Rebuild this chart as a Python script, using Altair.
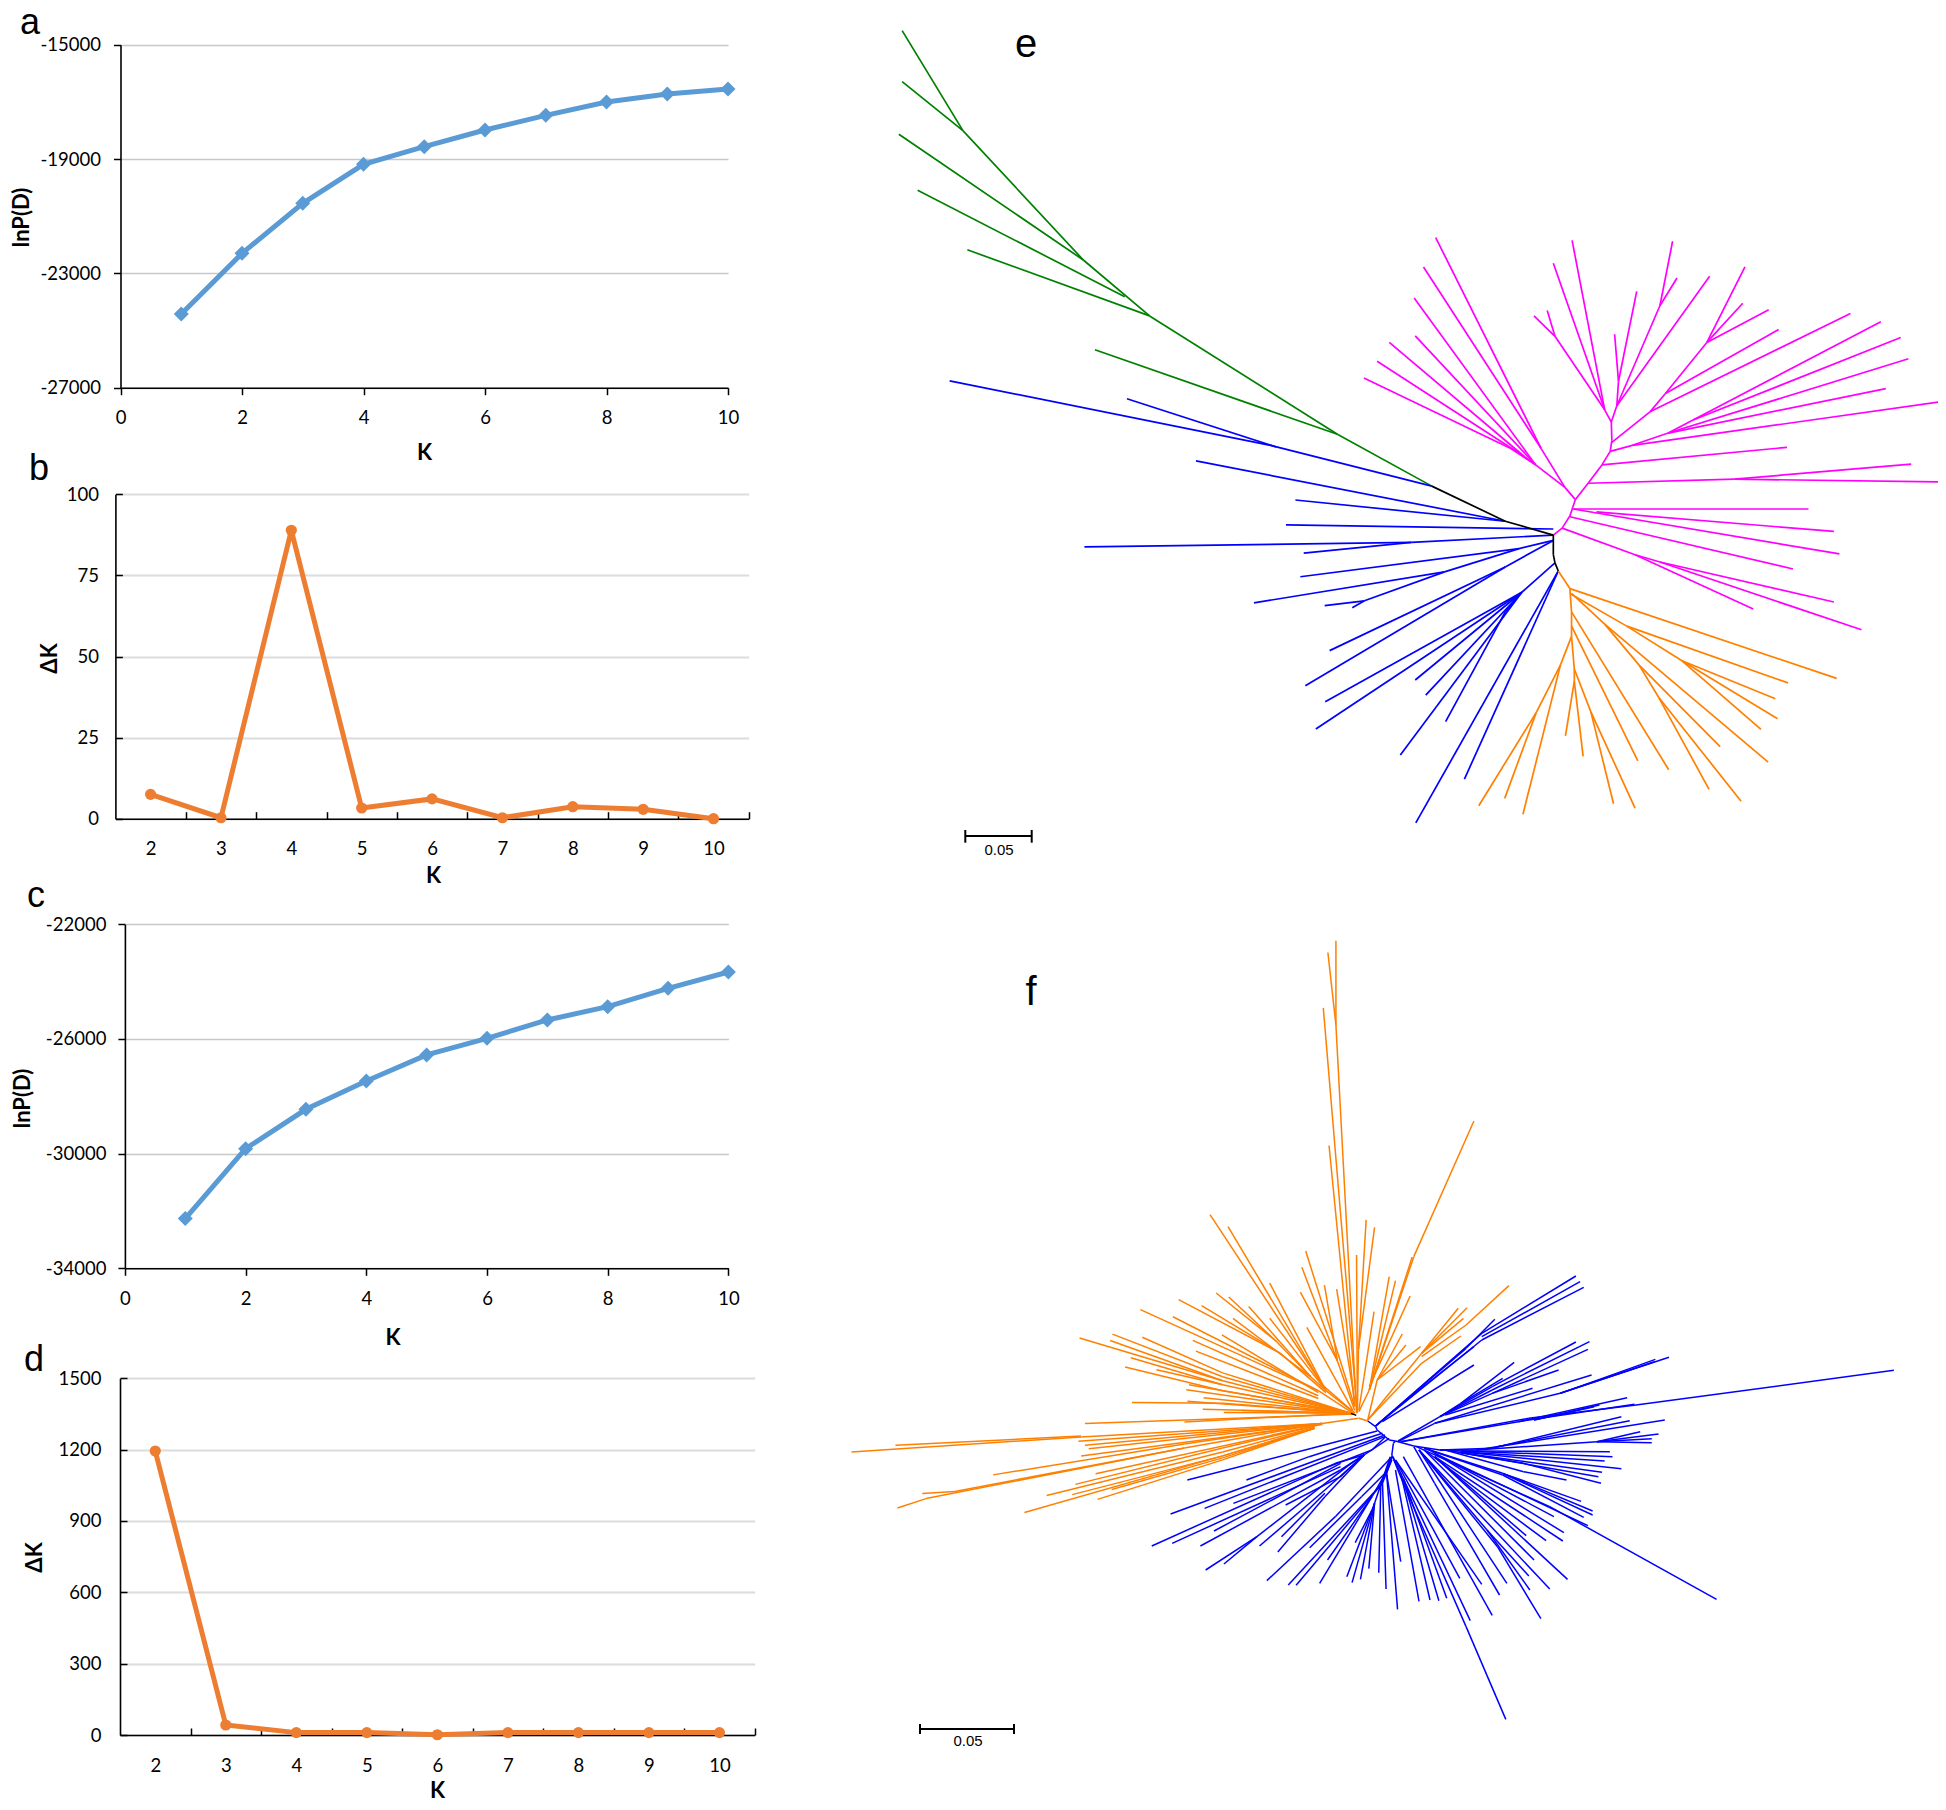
import altair as alt
import pandas as pd

W, H = 1930, 1794
TICK_FONT = "Lato"
k_all = [1, 2, 3, 4, 5, 6, 7, 8, 9, 10]
k_delta = [2, 3, 4, 5, 6, 7, 8, 9, 10]
edges = [2.5, 3.5, 4.5, 5.5, 6.5, 7.5, 8.5, 9.5, 10.5]

lnp_a = [-24423, -22300, -20550, -19186, -18568, -17985, -17472, -17006, -16726, -16551]
dk_b = [7.5, 0.3, 88.9, 3.3, 6.1, 0.3, 3.7, 2.9, 0.0]
lnp_c = [-32267, -29826, -28453, -27465, -26558, -25977, -25337, -24872, -24233, -23663]
dk_d = [1194, 42, 10, 10, 1, 10, 10, 10, 10]

# --- tree e, branch polylines in tree units ---
e_green = [
    [(-322, -464), (-212, -219), (6, 98), (126, 235), (466, 525), (637, 652)],
    [(-322, -339), (-212, -219)],
    [(-328, -210), (6, 98)],
    [(-294, -73), (81, 188)],
    [(-204, 73), (126, 235)],
    [(27, 318), (466, 525)],
]
e_black = [
    [(637, 652), (770, 738), (857, 772), (857, 820), (860, 840), (866, 860)],
]
e_blue = [
    [(-236, 394), (345, 552), (637, 652)],
    [(85, 438), (355, 556)],
    [(210, 590), (770, 738)],
    [(390, 686), (770, 738)],
    [(373, 747), (857, 757)],
    [(8, 801), (600, 790), (857, 772)],
    [(405, 816), (600, 790)],
    [(399, 874), (795, 805), (857, 785)],
    [(315, 938), (660, 862), (795, 805)],
    [(443, 945), (515, 933), (660, 862)],
    [(493, 950), (515, 933)],
    [(452, 1055), (770, 850), (857, 785)],
    [(408, 1141), (770, 850)],
    [(444, 1180), (800, 912), (860, 840)],
    [(427, 1247), (800, 912)],
    [(607, 1127), (800, 912)],
    [(626, 1164), (800, 912)],
    [(662, 1229), (770, 960), (800, 912)],
    [(580, 1311), (800, 912)],
    [(696, 1370), (866, 860)],
    [(608, 1477), (866, 860)],
]
e_orange = [
    [(866, 860), (887, 903), (890, 960), (890, 1020), (895, 1100), (895, 1130)],
    [(887, 903), (1370, 1123)],
    [(887, 915), (990, 995), (1282, 1134)],
    [(990, 995), (1090, 1080), (1259, 1173)],
    [(1090, 1080), (1263, 1222)],
    [(1090, 1080), (1233, 1248)],
    [(890, 915), (950, 990), (1246, 1328)],
    [(950, 990), (1012, 1090), (1159, 1290)],
    [(1012, 1090), (1048, 1170), (1139, 1395)],
    [(1048, 1170), (1197, 1424)],
    [(890, 960), (1066, 1347)],
    [(890, 995), (1010, 1325)],
    [(895, 1100), (925, 1205), (1005, 1441)],
    [(925, 1205), (966, 1430)],
    [(895, 1130), (911, 1314)],
    [(895, 1130), (879, 1264)],
    [(890, 1020), (870, 1090), (826, 1207), (722, 1435)],
    [(826, 1207), (769, 1417)],
    [(870, 1090), (802, 1456)],
]
e_magenta = [
    [(857, 772), (873, 755), (887, 725), (897, 685), (920, 645), (945, 600),
     (960, 567), (963, 540), (962, 495), (950, 465)],
    [(873, 755), (1005, 820), (1219, 953)],
    [(1005, 820), (1050, 838), (1365, 936)],
    [(1050, 838), (1415, 1004)],
    [(887, 727), (1291, 855)],
    [(893, 708), (1375, 818)],
    [(935, 715), (1365, 763)],
    [(893, 708), (1319, 708)],
    [(897, 685), (878, 655), (835, 560), (644, 43)],
    [(835, 560), (622, 115)],
    [(878, 655), (825, 600), (605, 191)],
    [(825, 600), (607, 284)],
    [(825, 600), (805, 580), (560, 300)],
    [(805, 580), (538, 346)],
    [(825, 600), (780, 560), (514, 387)],
    [(920, 645), (1185, 635), (1505, 598)],
    [(1185, 635), (1568, 642)],
    [(945, 600), (1280, 557)],
    [(960, 567), (1000, 552), (1555, 446)],
    [(1000, 552), (1065, 522), (1459, 413)],
    [(1065, 522), (1500, 340)],
    [(1065, 522), (1110, 490), (1486, 288)],
    [(1110, 490), (1450, 249)],
    [(963, 545), (1032, 470), (1395, 229)],
    [(1032, 470), (1060, 425), (1265, 268)],
    [(1060, 425), (1135, 300), (1247, 220)],
    [(1135, 300), (1200, 204)],
    [(1135, 300), (1204, 115)],
    [(962, 495), (972, 455), (1050, 210), (1073, 52)],
    [(1050, 210), (1081, 142)],
    [(972, 455), (1140, 138)],
    [(972, 455), (975, 395), (968, 280)],
    [(975, 395), (1008, 175)],
    [(950, 465), (891, 50)],
    [(950, 465), (860, 285), (822, 235)],
    [(860, 285), (846, 222)],
    [(950, 465), (857, 106)],
]

# --- tree f, left orange side in its own tree units ---
f_orange_left = [
    [(1296, 27), (1296, 240), (1350, 1222)],
    [(1275, 57), (1296, 240)],
    [(1263, 197), (1350, 1200)],
    [(1278, 545), (1345, 1205)],
    [(1350, 822), (1352, 1220)],
    [(1375, 733), (1355, 1060), (1352, 1220)],
    [(1397, 752), (1355, 1060)],
    [(1217, 812), (1345, 1205)],
    [(1207, 853), (1300, 1090), (1345, 1215)],
    [(1203, 916), (1300, 1090)],
    [(1266, 898), (1300, 1090)],
    [(1298, 908), (1345, 1190)],
    [(1220, 1005), (1340, 1215)],
    [(967, 720), (1260, 1150), (1345, 1222)],
    [(1014, 750), (1260, 1150)],
    [(1123, 893), (1270, 1165)],
    [(1123, 982), (1270, 1165)],
    [(1068, 952), (1230, 1130)],
    [(1016, 928), (1140, 1040), (1230, 1130), (1270, 1165), (1345, 1222)],
    [(983, 918), (1140, 1040)],
    [(1027, 982), (1230, 1130)],
    [(945, 950), (1150, 1070), (1270, 1170)],
    [(885, 935), (1150, 1070)],
    [(870, 978), (1250, 1165), (1340, 1222)],
    [(785, 960), (1250, 1165)],
    [(998, 1024), (1250, 1170)],
    [(922, 1038), (1250, 1178)],
    [(930, 1065), (1250, 1185)],
    [(626, 1032), (1000, 1140), (1335, 1222)],
    [(712, 1022), (1000, 1130), (1335, 1222)],
    [(706, 1038), (1000, 1140)],
    [(790, 1030), (1000, 1120), (1335, 1222)],
    [(760, 1082), (1000, 1150), (1335, 1222)],
    [(827, 1112), (1000, 1150)],
    [(745, 1105), (1000, 1165), (1335, 1222)],
    [(905, 1163), (1335, 1222)],
    [(912, 1150), (1335, 1222)],
    [(950, 1183), (1335, 1222)],
    [(908, 1192), (1335, 1222)],
    [(763, 1195), (1000, 1197), (1335, 1222)],
    [(948, 1212), (1335, 1222)],
    [(1003, 1220), (1335, 1222)],
    [(1050, 1215), (1335, 1222)],
    [(900, 1244), (1335, 1222)],
    [(640, 1248), (1345, 1224)],
    [(1355, 1235), (1260, 1248), (630, 1282), (30, 1320)],
    [(145, 1303), (630, 1280)],
    [(623, 1293), (1260, 1248)],
    [(640, 1303), (1260, 1248)],
    [(650, 1312), (1260, 1248)],
    [(630, 1330), (1260, 1250)],
    [(400, 1378), (900, 1300), (1260, 1248)],
    [(150, 1462), (225, 1438), (900, 1310), (1260, 1248)],
    [(215, 1425), (300, 1420), (900, 1310)],
    [(668, 1375), (1260, 1250)],
    [(615, 1402), (1000, 1310), (1240, 1255)],
    [(540, 1430), (1000, 1320), (1240, 1258)],
    [(607, 1428), (1000, 1330), (1240, 1260)],
    [(710, 1415), (1000, 1335), (1240, 1260)],
    [(673, 1440), (1000, 1340), (1240, 1260)],
    [(482, 1473), (1000, 1330), (1240, 1260)],
]
# --- tree f, right side in its own tree units ---
f_orange_right = [
    [(715, -327), (600, 80), (515, 480), (495, 545)],
    [(597, 81), (515, 480)],
    [(553, 140), (515, 480)],
    [(565, 152), (515, 480)],
    [(593, 198), (515, 470)],
    [(524, 245), (505, 440), (495, 540)],
    [(578, 312), (530, 450), (512, 570)],
    [(585, 345), (530, 450)],
    [(613, 350), (530, 450)],
    [(685, 235), (615, 370), (512, 570)],
    [(702, 233), (615, 370)],
    [(695, 265), (615, 370)],
    [(690, 318), (615, 400), (512, 570)],
    [(782, 167), (700, 285), (615, 380)],
    [(495, 565), (512, 573)],
]
f_black = [[(480, 550), (490, 556)]]
f_blue = [
    [(512, 573), (527, 590), (530, 600), (553, 630), (565, 633), (561, 640), (558, 675)],
    [(565, 633), (600, 648), (650, 660)],
    [(755, 268), (700, 355), (527, 588)],
    [(910, 138), (730, 310), (527, 588)],
    [(918, 155), (730, 320)],
    [(925, 172), (730, 330), (527, 588)],
    [(715, 350), (610, 480), (527, 588)],
    [(715, 405), (540, 575)],
    [(792, 397), (690, 520), (650, 560), (570, 633)],
    [(770, 445), (690, 520)],
    [(910, 336), (750, 470), (650, 560)],
    [(936, 335), (750, 480), (650, 560)],
    [(933, 358), (750, 490), (650, 560)],
    [(877, 420), (750, 490)],
    [(827, 475), (660, 555)],
    [(940, 435), (640, 580)],
    [(1062, 388), (880, 490), (640, 580), (570, 635)],
    [(1088, 382), (880, 490)],
    [(1060, 395), (880, 490)],
    [(1008, 503), (800, 575), (575, 635)],
    [(1022, 523), (800, 575)],
    [(955, 525), (830, 570)],
    [(945, 530), (830, 570)],
    [(1518, 421), (1025, 525), (820, 565), (575, 635)],
    [(997, 560), (750, 655), (650, 660)],
    [(1013, 572), (760, 650)],
    [(1080, 570), (720, 660), (650, 660)],
    [(1033, 605), (950, 635), (720, 660)],
    [(1068, 612), (950, 635)],
    [(1055, 626), (950, 635)],
    [(1055, 638), (950, 635)],
    [(975, 665), (690, 663), (650, 660)],
    [(980, 680), (690, 663)],
    [(965, 693), (690, 665)],
    [(997, 716), (690, 665)],
    [(960, 727), (690, 668)],
    [(953, 740), (690, 668)],
    [(958, 760), (810, 700), (660, 660)],
    [(892, 750), (810, 725), (660, 660)],
    [(920, 814), (770, 730), (620, 655)],
    [(942, 843), (770, 730)],
    [(942, 855), (770, 730)],
    [(925, 862), (770, 735), (620, 655)],
    [(933, 887), (640, 670)],
    [(868, 860), (640, 670)],
    [(887, 908), (625, 655)],
    [(885, 933), (640, 680)],
    [(853, 932), (620, 660)],
    [(815, 917), (640, 680)],
    [(830, 990), (620, 660)],
    [(894, 1048), (640, 680)],
    [(1179, 1108), (860, 830), (605, 650)],
    [(860, 1077), (700, 810), (610, 660)],
    [(822, 1080), (740, 900), (610, 660)],
    [(820, 1038), (740, 900)],
    [(778, 1060), (610, 660)],
    [(843, 1166), (760, 950), (610, 660)],
    [(764, 1095), (640, 760), (600, 650)],
    [(750, 1156), (580, 680)],
    [(776, 1468), (700, 1190), (580, 760), (558, 675)],
    [(708, 1172), (560, 680)],
    [(730, 1063), (565, 690)],
    [(688, 1045), (565, 690)],
    [(663, 1105), (580, 745)],
    [(648, 1112), (580, 750)],
    [(631, 1110), (575, 730)],
    [(610, 1114), (565, 720)],
    [(569, 1138), (548, 730), (558, 680)],
    [(575, 995), (548, 730)],
    [(547, 1077), (540, 750), (558, 680)],
    [(533, 1028), (537, 760), (558, 680)],
    [(498, 1048), (525, 820)],
    [(514, 1016), (525, 820)],
    [(482, 1058), (525, 820)],
    [(472, 1040), (525, 820), (555, 680)],
    [(488, 938), (520, 840)],
    [(420, 1060), (520, 800), (548, 725)],
    [(435, 990), (520, 800)],
    [(375, 1066), (540, 760)],
    [(360, 1065), (540, 760), (558, 690)],
    [(319, 1052), (450, 860), (558, 680)],
    [(401, 953), (500, 800), (548, 725)],
    [(340, 966), (430, 800), (505, 675), (553, 625)],
    [(305, 948), (430, 780), (505, 675)],
    [(347, 920), (430, 790)],
    [(355, 825), (460, 740), (505, 675)],
    [(237, 1002), (300, 920), (480, 700), (505, 675)],
    [(202, 1020), (300, 920)],
    [(192, 948), (460, 720), (505, 675)],
    [(218, 903), (460, 700)],
    [(138, 940), (460, 710)],
    [(99, 948), (450, 700), (505, 675)],
    [(135, 852), (545, 615)],
    [(200, 835), (545, 620)],
    [(255, 820), (520, 660), (545, 622)],
    [(280, 750), (400, 680), (540, 610)],
    [(167, 750), (405, 655), (530, 603)],
]

clades = ["green", "black", "blue", "orange", "magenta"]
clade_colors = ["#008000", "#000000", "#0000ff", "#ff8000", "#ff00ff"]

letters_left = ["a", "b", "c", "d"]
letters_left_x = [30, 39, 36, 34]
letters_left_y = [34, 480, 907, 1371]
letters_right = ["e", "f"]
letters_right_x = [1026, 1031]
letters_right_y = [57, 1005]
bar_x1 = [965.3, 965.3, 1031.7, 920, 920, 1014]
bar_x2 = [1031.7, 965.3, 1031.7, 1014, 920, 1014]
bar_y1 = [836, 830, 830, 1729, 1724, 1724]
bar_y2 = [836, 842.7, 842.7, 1729, 1734, 1734]
bar_label = ["0.05", "0.05"]
bar_label_x = [999, 968]
bar_label_y = [850, 1741]


def fig_x():
    return alt.Scale(domain=[8, 1938], range=[0, 1930], nice=False, zero=False)


def fig_y():
    return alt.Scale(domain=[8, 1802], range=[0, 1794], nice=False, zero=False)


def panel(ks, vals, xdom, ydom, xr, yr, xticks, yticks, ytitle, xtitle_pos, ytitle_pos,
          color, shape, size, grid_color, grid_w, minus, inner, xpad, ypad, line_w=5):
    x0, x1 = xr[0] - 8, xr[1] - 8
    y0, y1 = yr[0] - 8, yr[1] - 8
    sx = lambda: alt.Scale(domain=xdom, range=[x0, x1], nice=False, zero=False)
    sy = lambda: alt.Scale(domain=ydom, range=[y0, y1], nice=False, zero=False)
    df = pd.DataFrame({"K": ks, "v": vals})
    tick_size = 0 if inner else 7
    common = dict(labelFont=TICK_FONT, labelFontSize=18.5, labelColor="#000000", titleFont=TICK_FONT,
                  titleFontSize=22, titleFontWeight="bold", titleColor="#000000",
                  domainColor="#000000", domainWidth=1.6, tickColor="#000000", tickWidth=1.5,
                  tickSize=tick_size, titleBaseline="middle", titleAlign="center")
    y_kw = {}
    if minus:
        y_kw["labelExpr"] = "'-' + format(abs(datum.value), 'd')"
    else:
        y_kw["format"] = "d"
    ax_x = alt.Axis(orient="bottom", values=xticks, grid=False, format="d", title="K", offset=y0 - H,
                    titleX=xtitle_pos[0] - 8, titleY=xtitle_pos[1] - 8 - y0,
                    labelPadding=xpad, labelFlush=False, labelOverlap=False, ticks=not inner, **common)
    ax_y = alt.Axis(orient="left", values=yticks, grid=True, gridColor=grid_color, gridWidth=grid_w,
                    title=ytitle, offset=-x0, titleX=ytitle_pos[0] - 8 - x0, titleY=ytitle_pos[1] - 8,
                    labelPadding=ypad, labelFlush=False, labelOverlap=False, ticks=not inner,
                    **common, **y_kw)
    line = alt.Chart(df).mark_line(color=color, strokeWidth=line_w).encode(
        x=alt.X("K:Q", scale=sx(), axis=ax_x), y=alt.Y("v:Q", scale=sy(), axis=ax_y))
    pts = alt.Chart(df).mark_point(filled=True, opacity=1, color=color, shape=shape, size=size).encode(
        x=alt.X("K:Q", scale=sx(), axis=None), y=alt.Y("v:Q", scale=sy(), axis=None))
    out = [line, pts]
    if inner:
        ax_top = alt.Axis(orient="top", values=edges, labels=False, domain=False, grid=False, title=None,
                          offset=-y0, tickColor="#000000", tickWidth=1.5, tickSize=7)
        ax_right = alt.Axis(orient="right", values=yticks, labels=False, domain=False, grid=False, title=None,
                            offset=x0 - W, tickColor="#000000", tickWidth=1.5, tickSize=7)
        out.append(alt.Chart(df).mark_point(opacity=0).encode(
            x=alt.X("K:Q", scale=sx(), axis=ax_top), y=alt.Y("v:Q", scale=sy(), axis=ax_right)))
    return out


def segments(polys, clade):
    rows = []
    for p in polys:
        for (a, b), (c, d) in zip(p[:-1], p[1:]):
            rows.append({"x": a, "y": b, "x2": c, "y2": d, "clade": clade})
    return pd.DataFrame(rows)


def tree(polys, clade, xd, xr, yd, yr, sw=1.7):
    sxx = alt.Scale(domain=xd, range=[xr[0] - 8, xr[1] - 8], nice=False, zero=False)
    syy = alt.Scale(domain=yd, range=[yr[0] - 8, yr[1] - 8], nice=False, zero=False)
    return alt.Chart(segments(polys, clade)).mark_rule(strokeWidth=sw).encode(
        x=alt.X("x:Q", scale=sxx, axis=None), x2="x2:Q",
        y=alt.Y("y:Q", scale=syy, axis=None), y2="y2:Q",
        color=alt.Color("clade:N", scale=alt.Scale(domain=clades, range=clade_colors), legend=None))


layers = []
layers += panel(k_all, lnp_a, [0, 10], [-27000, -15000], (120.5, 728), (387.7, 44.7),
                [0, 2, 4, 6, 8, 10], [-27000, -23000, -19000, -15000], "lnP(D)", (21, 217), (21, 217),
                "#5b9bd5", "diamond", 225, "#c8c8c8", 1.5, True, False, 14, 13) if False else panel(
                k_all, lnp_a, [0, 10], [-27000, -15000], (120.5, 728), (387.7, 44.7),
                [0, 2, 4, 6, 8, 10], [-27000, -23000, -19000, -15000], "lnP(D)", (424, 452), (21, 217),
                "#5b9bd5", "diamond", 225, "#c8c8c8", 1.5, True, False, 14, 13)
layers += panel(k_delta, dk_b, [1.5, 10.5], [0, 100], (115.4, 748.7), (818.7, 494.3),
                k_delta, [0, 25, 50, 75, 100], "ΔK", (433, 875), (49, 658),
                "#ed7d31", "circle", 125, "#dcdcdc", 2, False, True, 21, 17)
layers += panel(k_all, lnp_c, [0, 10], [-34000, -22000], (124.9, 728.4), (1268.3, 924.3),
                [0, 2, 4, 6, 8, 10], [-34000, -30000, -26000, -22000], "lnP(D)", (392.5, 1337), (22, 1098),
                "#5b9bd5", "diamond", 225, "#c8c8c8", 1.5, True, False, 14, 12)
layers += panel(k_delta, dk_d, [1.5, 10.5], [0, 1500], (120, 754.7), (1735, 1378.3),
                k_delta, [0, 300, 600, 900, 1200, 1500], "ΔK", (437, 1790), (34, 1557),
                "#ed7d31", "circle", 125, "#dcdcdc", 2, False, True, 21, 19)

E = dict(xd=[0, 1568], xr=(1080, 1946), yd=[0, 1568], yr=(220, 860))
F5 = dict(xd=[0, 1568], xr=(840, 1440), yd=[0, 1568], yr=(930, 1550))
F6 = dict(xd=[0, 1568], xr=(1100, 1920), yd=[0, 1560], yr=(1230, 1750))
layers += [
    tree(e_green, "green", **E),
    tree(e_blue, "blue", **E),
    tree(e_orange, "orange", **E),
    tree(e_magenta, "magenta", **E),
    tree(e_black, "black", **E),
    tree(f_orange_left, "orange", sw=1.5, **F5),
    tree(f_orange_right, "orange", sw=1.5, **F6),
    tree(f_blue, "blue", sw=1.5, **F6),
    tree(f_black, "black", sw=1.5, **F6),
]

bars = pd.DataFrame({"x": bar_x1, "x2": bar_x2, "y": bar_y1, "y2": bar_y2})
layers.append(alt.Chart(bars).mark_rule(color="#000000", strokeWidth=2).encode(
    x=alt.X("x:Q", scale=fig_x(), axis=None), x2="x2:Q",
    y=alt.Y("y:Q", scale=fig_y(), axis=None), y2="y2:Q"))


def text_layer(labels, xs, ys, size, baseline):
    df = pd.DataFrame({"t": labels, "x": xs, "y": ys})
    return alt.Chart(df).mark_text(font="Liberation Sans", fontSize=size, color="#000000",
                                   align="center", baseline=baseline).encode(
        x=alt.X("x:Q", scale=fig_x(), axis=None), y=alt.Y("y:Q", scale=fig_y(), axis=None),
        text="t:N")


layers.append(text_layer(letters_left, letters_left_x, letters_left_y, 36, "alphabetic"))
layers.append(text_layer(letters_right, letters_right_x, letters_right_y, 40, "alphabetic"))
layers.append(text_layer(bar_label, bar_label_x, bar_label_y, 15, "middle"))

chart = alt.layer(*layers).resolve_scale(x="independent", y="independent").resolve_axis(
    x="independent", y="independent"
).properties(
    width=W, height=H, padding=0, background="#ffffff", autosize=alt.AutoSizeParams(type="none")
).configure_view(stroke=None)

chart.save("out.html", embed_options={"renderer": "svg", "actions": False})
